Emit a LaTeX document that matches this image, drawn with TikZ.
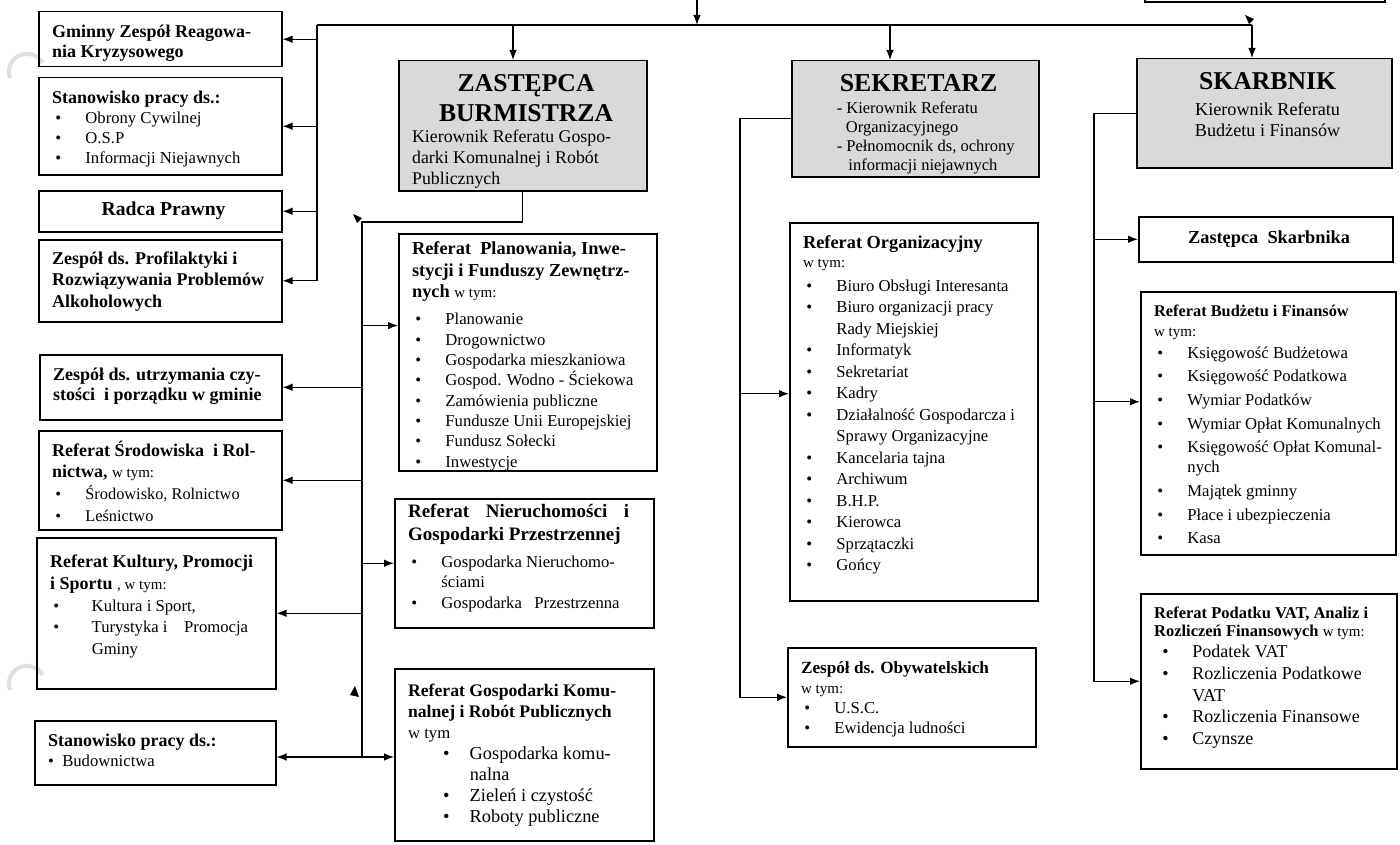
\documentclass[tikz,border=0pt]{standalone}
\usepackage{fontspec}
\setmainfont{Liberation Serif}
\usetikzlibrary{arrows.meta}

\tikzstyle{unit}=[draw,line width=0.9pt,anchor=north west,inner xsep=0pt,inner ysep=8pt,font=\fontsize{10}{12}\selectfont]
\tikzstyle{chief}=[unit,fill=gray!30]
\tikzstyle{wire}=[line width=0.7pt]
\tikzstyle{feed}=[wire,-{Latex[length=6pt,width=4.5pt]}]

\newlength{\bls}\setlength{\bls}{12pt}
\newcommand{\boxtxt}[4][t]{\hspace*{8pt}\parbox[c][\dimexpr0.6pt*#3-16pt\relax][#1]{\dimexpr0.6pt*#2-12pt\relax}{\raggedright #4}\hspace*{4pt}}
\newcommand{\itm}[2][20pt]{\makebox[#1][l]{\hspace{2pt}\textbullet}#2}
\newcommand{\itmc}[2][20pt]{\hspace*{#1}#2}
\newcommand{\hdf}{\fontsize{10.8}{\bls}\selectfont\bfseries}
\newcommand{\bdf}{\fontsize{10}{\bls}\selectfont\mdseries}
\newcommand{\wtf}{\fontsize{9}{\bls}\selectfont\mdseries}

\begin{document}
\begin{tikzpicture}[x=0.6pt,y=-0.6pt]
    \useasboundingbox (0,0) rectangle (1400,845);
    %Punch holes
    \foreach \y in {72,684}
    \draw[black!12,line width=2.5pt] (10,\y+6) arc[start angle=160,end angle=330,radius=18];
    %Box above (cut off)
    \draw[wire] (1145,-5) -- (1145,2) -- (1385,2) -- (1385,-5);

    %Left column
    \node[unit] (gzrk) at (38,11) {\boxtxt{243}{55}{\hdf Gminny Zespół Reagowa-\\nia Kryzysowego}};
    \node[unit] (ocyw) at (38,77) {\boxtxt{243}{97}{\hdf Stanowisko pracy ds.:\\\bdf\itm{Obrony Cywilnej}\\\itm{O.S.P}\\\itm{Informacji Niejawnych}}};
    \node[unit] (radca) at (38,190) {\boxtxt[c]{243}{41}{\centering\fontsize{11.8}{14}\selectfont\bfseries Radca Prawny}};
    \node[unit] (alko) at (38,239) {\boxtxt{243}{82}{\vspace*{-1pt}\setlength{\bls}{12.9pt}\hdf Zespół ds. Profilaktyki i\\Rozwiązywania Problemów\\Alkoholowych}};
    \node[unit] (czyst) at (39,354) {\boxtxt{242}{65}{\hdf Zespół ds. utrzymania czy-\\stości\ \ i porządku w gminie}};
    \node[unit] (srod) at (38,430) {\boxtxt{243}{99}{\vspace*{-2pt}\setlength{\bls}{13pt}\hdf Referat Środowiska\ \ i Rol-\\nictwa, {\wtf w tym:}\\\fontsize{9.8}{\bls}\selectfont\mdseries\itm{Środowisko, Rolnictwo}\\\itm{Leśnictwo}}};
    \node[unit] (kult) at (36,537) {\boxtxt{239}{151}{\vspace*{2.5pt}\setlength{\bls}{13pt}\hdf Referat Kultury, Promocji\\i Sportu {\wtf, w tym:}\\\bdf\itm[25pt]{Kultura i Sport,}\\\itm[25pt]{Turystyka i\hspace{1em}Promocja}\\\itmc[25pt]{Gminy}}};
    \node[unit] (budow) at (34,720) {\boxtxt{241}{64}{\hdf Stanowisko pracy ds.:\\\bdf\textbullet\hspace{5pt}Budownictwa}};

    %Zastepca column
    \node[chief] (zast) at (398,60) {\boxtxt{248}{130}{\centering\fontsize{15.4}{18.5}\selectfont\bfseries ZASTĘPCA\\BURMISTRZA\par\raggedright\fontsize{10.7}{12.6}\selectfont\mdseries Kierownik Referatu Gospo-\\darki Komunalnej i Robót\\Publicznych}};
    \node[unit] (plan) at (398,233) {\boxtxt{258}{237}{\vspace*{-3pt}\setlength{\bls}{12.9pt}\fontsize{11}{\bls}\selectfont\bfseries Referat\ \ Planowania, Inwe-\\stycji i Funduszy Zewnętrz-\\nych {\wtf w tym:}\par\vspace{4pt}\setlength{\bls}{12.2pt}\bdf\itm{Planowanie}\\\itm{Drogownictwo}\\\itm{Gospodarka mieszkaniowa}\\\itm{Gospod. Wodno - Ściekowa}\\\itm{Zamówienia publiczne}\\\itm{Fundusze Unii Europejskiej}\\\itm{Fundusz Sołecki}\\\itm{Inwestycje}}};
    \node[unit] (nier) at (394,498) {\boxtxt{259}{129}{\vspace*{-5pt}\setlength{\bls}{13.8pt}\fontsize{11.4}{\bls}\selectfont\bfseries Referat\hspace{10pt}Nieruchomości\hspace{10pt}i\\Gospodarki Przestrzennej\par\vspace{5pt}\setlength{\bls}{11.6pt}\bdf\itm{Gospodarka Nieruchomo-}\\\itmc{ściami}\\[1.5pt]\itm{Gospodarka\ \ \ Przestrzenna}}};
    \node[unit] (gkom) at (394,668) {\boxtxt{259}{172}{\vspace*{1.2pt}\setlength{\bls}{12.6pt}\fontsize{10.6}{\bls}\selectfont\bfseries Referat Gospodarki Komu-\\nalnej i Robót Publicznych\\\bdf w tym\\\fontsize{11}{\bls}\selectfont\hspace*{19pt}\itm[18pt]{Gospodarka komu-}\\\itmc[37pt]{nalna}\\\hspace*{19pt}\itm[18pt]{Zieleń i czystość}\\\hspace*{19pt}\itm[18pt]{Roboty publiczne}}};

    %Sekretarz column
    \node[chief] (sekr) at (791,60) {\boxtxt{247}{116}{\centering\fontsize{15.5}{18}\selectfont\bfseries SEKRETARZ\par\vspace{2pt}\raggedright\fontsize{9.9}{11.4}\selectfont\mdseries\leftskip=19pt - Kierownik Referatu\\\hspace*{5.5pt}Organizacyjnego\\- Pełnomocnik ds, ochrony\\\hspace*{7pt}informacji niejawnych}};
    \node[unit] (org) at (789,222) {\boxtxt{248}{378}{\setlength{\bls}{11pt}\fontsize{11}{\bls}\selectfont\bfseries Referat Organizacyjny\\\wtf w tym:\par\vspace{1.5pt}\setlength{\bls}{12.9pt}\bdf\itm{Biuro Obsługi Interesanta}\\\itm{Biuro organizacji pracy}\\\itmc{Rady Miejskiej}\\\itm{Informatyk}\\\itm{Sekretariat}\\\itm{Kadry}\\\itm{Działalność Gospodarcza i}\\\itmc{Sprawy Organizacyjne}\\\itm{Kancelaria tajna}\\\itm{Archiwum}\\\itm{B.H.P.}\\\itm{Kierowca}\\\itm{Sprzątaczki}\\\itm{Gońcy}}};
    \node[unit] (obyw) at (787,647) {\boxtxt{248}{99}{\fontsize{10.3}{\bls}\selectfont\bfseries Zespół ds. Obywatelskich\\\wtf w tym:\\\bdf\itm{U.S.C.}\\\itm{Ewidencja ludności}}};

    %Skarbnik column
    \node[chief] (skarb) at (1136,58) {\boxtxt{255}{109}{\centering\fontsize{15.4}{18}\selectfont\bfseries SKARBNIK\par\vspace{3pt}\fontsize{10.9}{12.6}\selectfont\mdseries Kierownik Referatu\\Budżetu i Finansów}};
    \node[unit] (zskarb) at (1138,216) {\boxtxt[c]{254}{45}{\centering\fontsize{11}{13}\selectfont\bfseries Zastępca\ \ Skarbnika}};
    \node[unit] (budz) at (1140,291) {\boxtxt{255}{263}{\fontsize{9.8}{\bls}\selectfont\bfseries Referat Budżetu i Finansów\\\wtf w tym:\\[1pt]\bdf\itm{Księgowość Budżetowa}\\[2.2pt]\itm{Księgowość Podatkowa}\\[2.2pt]\itm{Wymiar Podatków}\\[2.2pt]\itm{Wymiar Opłat Komunalnych}\\[2.2pt]\itm{Księgowość Opłat Komunal-}\\\itmc{nych}\\[2.2pt]\itm{Majątek gminny}\\[2.2pt]\itm{Płace i ubezpieczenia}\\[2.2pt]\itm{Kasa}}};
    \node[unit] (vat) at (1140,593) {\boxtxt{256}{175}{\fontsize{9.9}{10.4}\selectfont\bfseries Referat Podatku VAT, Analiz i\\Rozliczeń Finansowych {\wtf w tym:}\par\fontsize{10.8}{13}\selectfont\mdseries\hspace*{3pt}\itm{Podatek VAT}\\\hspace*{3pt}\itm{Rozliczenia Podatkowe}\\\itmc[23pt]{VAT}\\\hspace*{3pt}\itm{Rozliczenia Finansowe}\\\hspace*{3pt}\itm{Czynsze}}};

    %Top bus
    \coordinate (top) at (697,0);
    \coordinate (busL) at (317,25);
    \coordinate (busR) at (1252,25);
    \coordinate (dz) at (513,25);
    \coordinate (ds) at (890,25);
    \draw[wire] (busL) -- (busR);
    \draw[feed] (top) -- (top |- busL);
    \foreach \pos/\name in {dz/zast, ds/sekr, busR/skarb}
    \draw[feed] (\pos) -- (\pos |- \name.north);
    \draw[wire] (busL) -- (busL |- alko.east);
    \foreach \name in {gzrk, ocyw, radca, alko}
    \draw[feed] (busL |- \name.east) -- (\name.east);

    %Zastepca branches
    \coordinate (zv) at (362,222);
    \coordinate (zb) at (362,757);
    \coordinate (pin) at ([yshift=16pt]plan.west);
    \draw[wire] (zast.south) |- (zv) -- (zb);
    \foreach \name in {czyst, srod, kult}
    \draw[feed] (zv |- \name.east) -- (\name.east);
    \draw[feed] (zb) -- (zb -| budow.east);
    \draw[feed] (zb) -- (zb -| gkom.west);
    \draw[feed] (zv |- pin) -- (pin);
    \draw[feed] (zv |- nier.west) -- (nier.west);

    %Sekretarz branches
    \coordinate (sv) at (740,0);
    \coordinate (oin) at ([yshift=10.8pt]org.west);
    \draw[feed] (sekr.west) -| (sv |- obyw.west) -- (obyw.west);
    \draw[feed] (sv |- oin) -- (oin);

    %Skarbnik branches
    \coordinate (kv) at (1094,0);
    \coordinate (bin) at ([yshift=12.9pt]budz.west);
    \draw[feed] (skarb.west) -| (kv |- vat.west) -- (vat.west);
    \draw[feed] (kv |- zskarb.west) -- (zskarb.west);
    \draw[feed] (kv |- bin) -- (bin);

    %Stray tips
    \fill (353,214) -- (362,218) -- (357,223) -- cycle;
    \fill (355,686) -- (359,697) -- (350,695) -- cycle;
    \fill (1245,15) -- (1254,19) -- (1249,24) -- cycle;
\end{tikzpicture}
\end{document}
